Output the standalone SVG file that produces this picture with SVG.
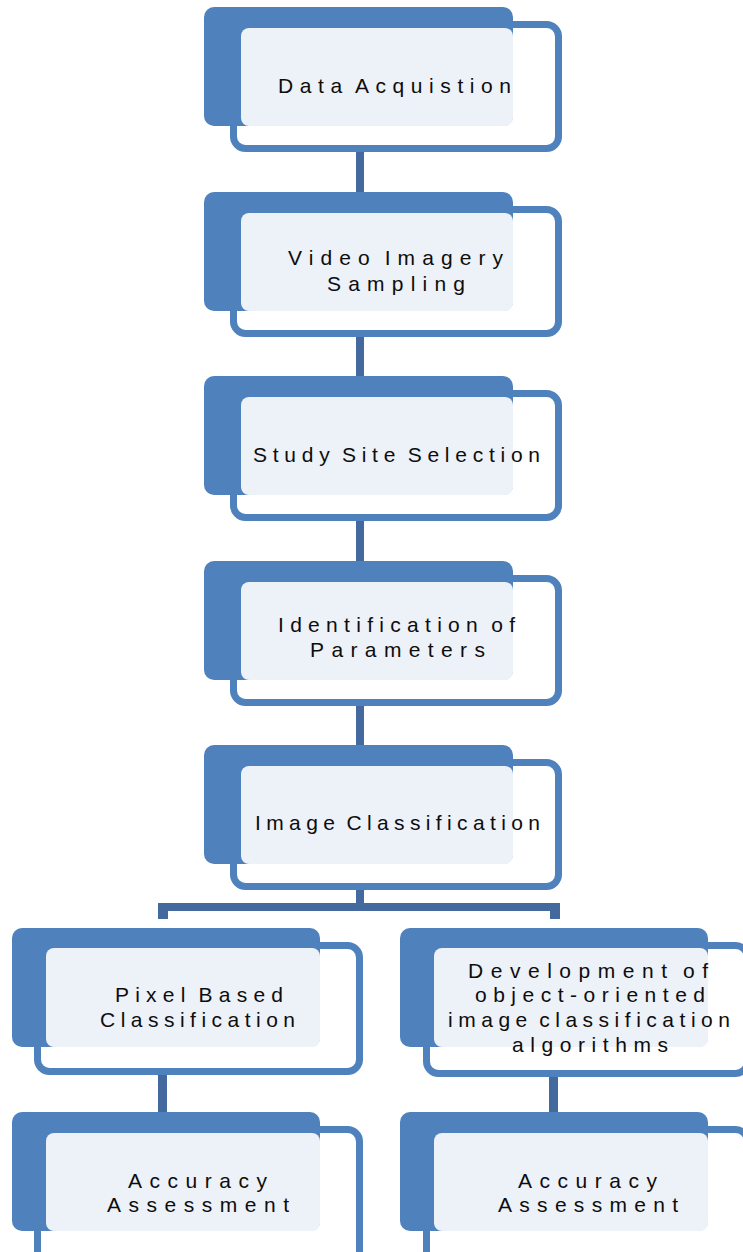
<svg xmlns="http://www.w3.org/2000/svg" width="743" height="1252" viewBox="0 0 743 1252">
<style>
.front{fill:#ffffff;stroke:#4F81BD;stroke-width:7}
.back{fill:#4F81BD}
.light{fill:#EDF1F8}
.conn{fill:#44699E}
.ghost{fill:#E6E9F1}
text{font-family:"Liberation Sans","DejaVu Sans",Arial,sans-serif;font-size:21px;fill:#0d0d0d;word-spacing:-5px}
</style>
<rect width="743" height="1252" fill="#ffffff"/>
<g id="connectors">
<rect class="ghost" x="356" y="139" width="9" height="14"/>
<rect class="conn" x="356" y="152" width="8" height="40"/>
<rect class="ghost" x="356" y="324" width="9" height="14"/>
<rect class="conn" x="356" y="337" width="8" height="39"/>
<rect class="ghost" x="356" y="508" width="9" height="14"/>
<rect class="conn" x="356" y="521" width="8" height="40"/>
<rect class="ghost" x="356" y="693" width="9" height="14"/>
<rect class="conn" x="356" y="706" width="8" height="39"/>
<rect class="ghost" x="356" y="877" width="9" height="14"/>
<rect class="conn" x="356" y="890" width="8" height="17"/>
<rect class="conn" x="158" y="903" width="402" height="8"/>
<rect class="conn" x="158" y="903" width="10" height="16"/>
<rect class="conn" x="550" y="903" width="10" height="16"/>
<rect class="ghost" x="157" y="1062" width="10" height="14"/>
<rect class="conn" x="158" y="1075" width="9" height="37"/>
<rect class="ghost" x="548" y="1062" width="10" height="14"/>
<rect class="conn" x="549" y="1076" width="9" height="36"/>
</g>
<g id="node-data-acquisition">
<rect class="front" x="233.5" y="24.5" width="325" height="124" rx="12"/>
<rect class="back" x="204" y="7" width="309" height="119" rx="10"/>
<rect class="light" x="241" y="28" width="272" height="98" rx="8"/>
<text x="278" y="93" textLength="233" lengthAdjust="spacing">Data Acquistion</text>
</g>
<g id="node-video-imagery">
<rect class="front" x="233.5" y="209.5" width="325" height="124" rx="12"/>
<rect class="back" x="204" y="192" width="309" height="119" rx="10"/>
<rect class="light" x="241" y="213" width="272" height="98" rx="8"/>
<text x="288" y="265" textLength="215" lengthAdjust="spacing">Video Imagery</text>
<text x="327" y="291" textLength="138" lengthAdjust="spacing">Sampling</text>
</g>
<g id="node-study-site">
<rect class="front" x="233.5" y="393.5" width="325" height="124" rx="12"/>
<rect class="back" x="204" y="376" width="309" height="119" rx="10"/>
<rect class="light" x="241" y="397" width="272" height="98" rx="8"/>
<text x="253" y="462" textLength="287" lengthAdjust="spacing">Study Site Selection</text>
</g>
<g id="node-identification">
<rect class="front" x="233.5" y="578.5" width="325" height="124" rx="12"/>
<rect class="back" x="204" y="561" width="309" height="119" rx="10"/>
<rect class="light" x="241" y="582" width="272" height="98" rx="8"/>
<text x="278" y="632" textLength="237" lengthAdjust="spacing">Identification of</text>
<text x="310" y="657" textLength="175" lengthAdjust="spacing">Parameters</text>
</g>
<g id="node-image-classification">
<rect class="front" x="233.5" y="762.5" width="325" height="124" rx="12"/>
<rect class="back" x="204" y="745" width="309" height="119" rx="10"/>
<rect class="light" x="241" y="766" width="272" height="98" rx="8"/>
<text x="255" y="830" textLength="285" lengthAdjust="spacing">Image Classification</text>
</g>
<g id="node-pixel-based">
<rect class="front" x="37.5" y="945.5" width="322" height="126" rx="12"/>
<rect class="back" x="12" y="928" width="308" height="119" rx="10"/>
<rect class="light" x="46" y="948" width="274" height="99" rx="8"/>
<text x="115" y="1002" textLength="168" lengthAdjust="spacing">Pixel Based</text>
<text x="100" y="1027" textLength="195" lengthAdjust="spacing">Classification</text>
</g>
<g id="node-object-oriented">
<rect class="front" x="426.5" y="945.5" width="321" height="128" rx="12"/>
<rect class="back" x="400" y="928" width="308" height="119" rx="10"/>
<rect class="light" x="434" y="948" width="274" height="99" rx="8"/>
<text x="468" y="978" textLength="240" lengthAdjust="spacing">Development of</text>
<text x="475" y="1002" textLength="230" lengthAdjust="spacing">object-oriented</text>
<text x="448" y="1027" textLength="282" lengthAdjust="spacing">image classification</text>
<text x="512" y="1052" textLength="156" lengthAdjust="spacing">algorithms</text>
</g>
<g id="node-accuracy-left">
<rect class="front" x="37.5" y="1129.5" width="322" height="160" rx="12"/>
<rect class="back" x="12" y="1112" width="308" height="119" rx="10"/>
<rect class="light" x="46" y="1133" width="274" height="98" rx="8"/>
<text x="128" y="1188" textLength="139" lengthAdjust="spacing">Accuracy</text>
<text x="107" y="1212" textLength="182" lengthAdjust="spacing">Assessment</text>
</g>
<g id="node-accuracy-right">
<rect class="front" x="426.5" y="1129.5" width="321" height="160" rx="12"/>
<rect class="back" x="400" y="1112" width="308" height="119" rx="10"/>
<rect class="light" x="434" y="1133" width="274" height="98" rx="8"/>
<text x="518" y="1188" textLength="139" lengthAdjust="spacing">Accuracy</text>
<text x="498" y="1212" textLength="180" lengthAdjust="spacing">Assessment</text>
</g>
</svg>
